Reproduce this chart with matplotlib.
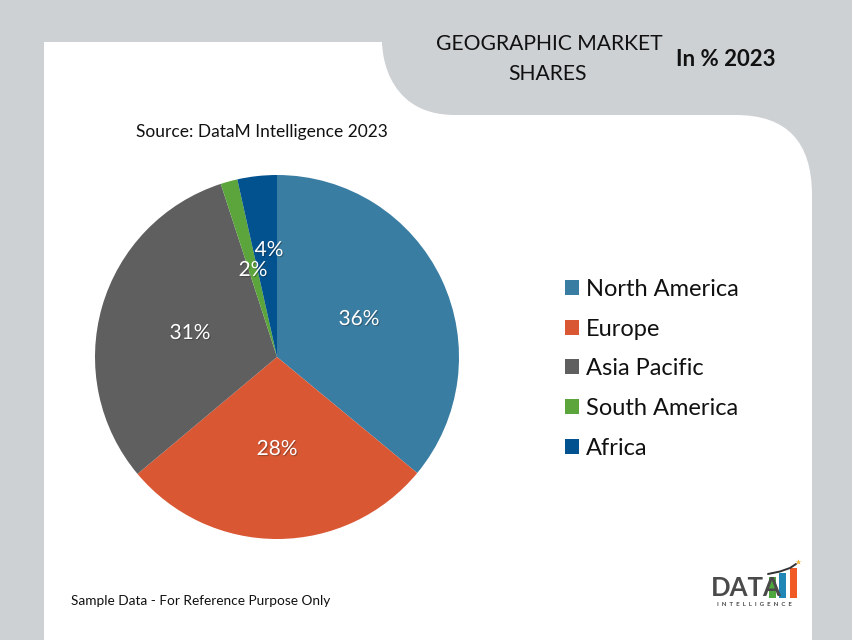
import matplotlib
matplotlib.use("Agg")
import matplotlib.pyplot as plt
from matplotlib.path import Path
from matplotlib.patches import PathPatch, Rectangle
import matplotlib.patheffects as pe

categories = ["North America", "Europe", "Asia Pacific", "South America", "Africa"]
shares = [36.0, 27.9, 31.1, 1.5, 3.5]
share_labels = ["36%", "28%", "31%", "2%", "4%"]
colors = ["#397DA3", "#D95733", "#5F5F5F", "#5BA53C", "#02528F"]

W, H = 853, 640
GREY = "#CDD1D4"
plt.rcParams["font.family"] = ["Lato", "DejaVu Sans"]

fig = plt.figure(figsize=(W / 100, H / 100), dpi=100, facecolor=GREY)
bg = fig.add_axes([0, 0, 1, 1], zorder=0)
bg.set_xlim(0, W)
bg.set_ylim(H, 0)
bg.axis("off")

# white panel with the tab cut out of it
M, L, C, C4 = Path.MOVETO, Path.LINETO, Path.CURVE3, Path.CURVE4
verts = [(44, 42), (382, 42),
         (382, 42), (381, 115), (455, 115),
         (736, 115),
         (812, 115), (812, 195),
         (812, 640), (44, 640), (44, 42)]
codes = [M, L, C4, C4, C4, L, C, C, L, L, Path.CLOSEPOLY]
bg.add_patch(PathPatch(Path(verts, codes), facecolor="white", edgecolor="none"))

bg.text(549, 44, "GEOGRAPHIC MARKET", ha="center", va="center", fontsize=15.2, color="#111111")
bg.text(548, 74, "SHARES", ha="center", va="center", fontsize=15.2, color="#111111")
bg.text(725.5, 59.5, "In % 2023", ha="center", va="center", fontsize=16, fontweight="bold", color="#111111")
bg.text(136, 132, "Source: DataM Intelligence 2023", ha="left", va="center", fontsize=12.5, color="#111111")
bg.text(71, 601, "Sample Data - For Reference Purpose Only", ha="left", va="center", fontsize=9.8, color="#111111")

# pie
cx, cy, r = 277, 357, 182
ax = fig.add_axes([(cx - r) / W, 1 - (cy + r) / H, 2 * r / W, 2 * r / H], zorder=1)
wedges, _ = ax.pie(shares, colors=colors, startangle=90, counterclock=False, radius=1.0,
                   wedgeprops={"linewidth": 0})
ax.set_xlim(-1, 1)
ax.set_ylim(-1, 1)
ax.set_aspect("equal")

label_px = [(359, 319), (277, 449), (190, 333), (253, 270), (269, 250)]
shadow = [pe.SimplePatchShadow(offset=(0.8, -0.8), shadow_rgbFace="#222222", alpha=0.35), pe.Normal()]
for txt, (px, py) in zip(share_labels, label_px):
    fig.text(px / W, 1 - py / H, txt, ha="center", va="center", fontsize=15, color="white",
             zorder=5, path_effects=shadow)

# legend
leg = fig.legend(wedges, categories, loc="upper left", bbox_to_anchor=(565 / W, 1 - 279 / H),
                 frameon=False, fontsize=17, handlelength=0.6, handleheight=0.6,
                 handletextpad=0.27, labelspacing=0.79, borderpad=0, borderaxespad=0)
for t in leg.get_texts():
    t.set_color("#111111")

# logo
bg.text(711, 588, "DATA", ha="left", va="center", fontsize=18.5, fontweight="bold", color="#4A4A4A",
        family=["Liberation Sans Narrow", "Lato"])
for x0, top, col in [(769, 577, "#4FA83D"), (779, 573, "#1F86B5"), (790, 568, "#F15A24")]:
    bg.add_patch(Rectangle((x0, top), 7, 598 - top, facecolor=col, edgecolor="none"))
bg.plot([768, 780, 790, 796], [574, 571.5, 568, 564], color="#333333", lw=1.4, solid_capstyle="round")
bg.plot([798], [562], marker="*", ms=4, color="#F2B233", mec="none")
bg.text(754, 604, "I  N  T  E  L  L  I  G  E  N  C  E", ha="center", va="center", fontsize=4.4,
        fontweight="bold", color="#4A4A4A")

fig.savefig("out.png", dpi=100, facecolor=GREY)
